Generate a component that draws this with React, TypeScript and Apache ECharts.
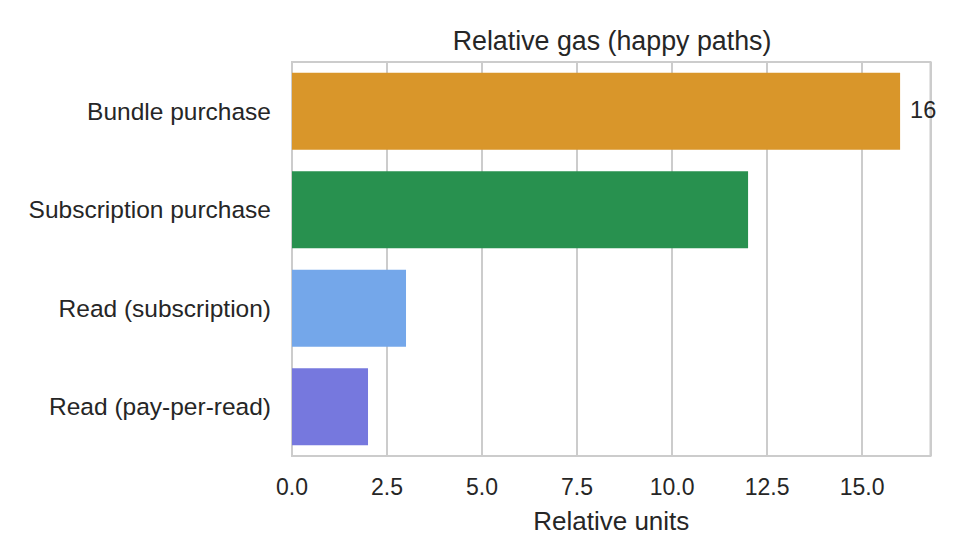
import React, { useEffect, useRef } from "react";
import * as echarts from "echarts";

const categories = ["Bundle purchase", "Subscription purchase", "Read (subscription)", "Read (pay-per-read)"];
const values = [16, 12, 3, 2];
const barColors = ["#d9962a", "#28914f", "#74a7ea", "#7678de"];
const valueLabels = ["16", "", "", ""];
const chartTitle = "Relative gas (happy paths)";
const xAxisName = "Relative units";

const FONT = "'Liberation Sans', Arial, sans-serif";
const TEXT = "#262626";
const GRID = "#cccccc";

export default function App() {
  const ref = useRef<HTMLDivElement>(null);
  useEffect(() => {
    if (!ref.current) return;
    const chart = echarts.init(ref.current, undefined, { renderer: "svg" });
    chart.setOption({
      animation: false,
      backgroundColor: "#ffffff",
      textStyle: { fontFamily: FONT, color: TEXT },
      title: {
        text: chartTitle,
        left: 612,
        textAlign: "center",
        top: 27,
        padding: 0,
        textStyle: { fontFamily: FONT, fontSize: 26.8, fontWeight: "normal", color: TEXT },
      },
      grid: {
        left: 292,
        top: 62,
        width: 638.5,
        height: 394,
        show: true,
        borderColor: GRID,
        borderWidth: 2,
        backgroundColor: "transparent",
      },
      xAxis: {
        type: "value",
        min: 0,
        max: 16.8,
        interval: 2.5,
        name: xAxisName,
        nameLocation: "middle",
        nameGap: 52,
        nameTextStyle: { fontFamily: FONT, fontSize: 26, color: TEXT },
        axisLine: { show: false },
        axisTick: { show: false },
        splitLine: { show: true, lineStyle: { color: GRID, width: 2 } },
        axisLabel: {
          fontFamily: FONT,
          fontSize: 23,
          color: TEXT,
          margin: 19,
          showMaxLabel: false,
          formatter: (v: number) => v.toFixed(1),
        },
      },
      yAxis: {
        type: "category",
        data: categories,
        inverse: true,
        axisLine: { show: false },
        axisTick: { show: false },
        splitLine: { show: false },
        axisLabel: { fontFamily: FONT, fontSize: 24.5, color: TEXT, margin: 21 },
      },
      series: [
        {
          type: "bar",
          barWidth: "78%",
          data: values.map((v, i) => ({
            value: v,
            itemStyle: { color: barColors[i] },
            label: {
              show: valueLabels[i] !== "",
              position: "right",
              distance: 10,
              offset: [0, -1],
              formatter: () => valueLabels[i],
              fontFamily: FONT,
              fontSize: 23.5,
              color: TEXT,
            },
          })),
        },
      ],
    });
    return () => chart.dispose();
  }, []);
  return (
    <div
      ref={ref}
      style={{ position: "fixed", left: 0, top: 0, width: 960, height: 560, background: "#fff" }}
    />
  );
}
